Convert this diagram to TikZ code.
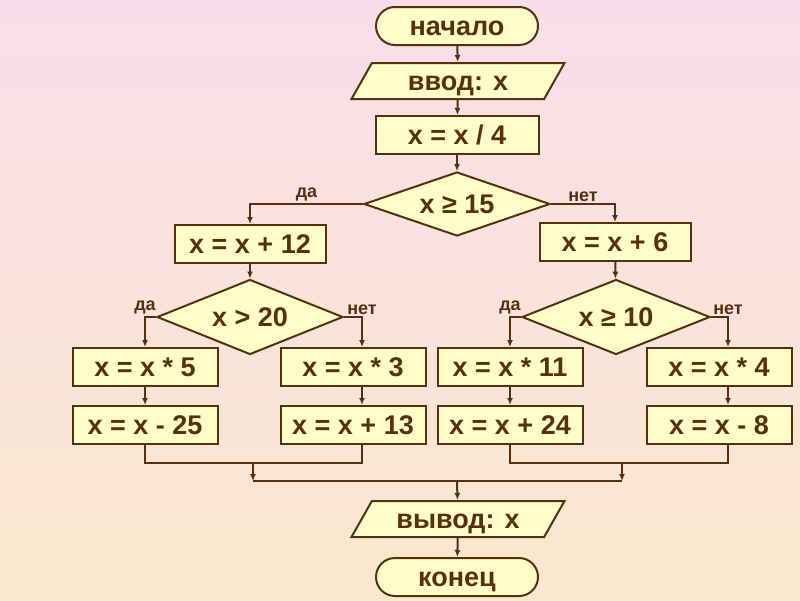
\documentclass[tikz,border=0pt]{standalone}
\usepackage{fontspec}
\setmainfont{Liberation Sans}
\usetikzlibrary{shapes.geometric,shapes.misc,arrows.meta}
\definecolor{brn}{RGB}{88,48,14}
\definecolor{boxfill}{RGB}{255,253,200}
\definecolor{bgtop}{RGB}{248,222,234}
\definecolor{bgbot}{RGB}{250,232,205}

\begin{document}
\begin{tikzpicture}[x=1pt, y=-1pt,
  box/.style={draw=brn, fill=boxfill, line width=2pt, text=brn,
    font=\fontsize{27}{30}\selectfont\bfseries, inner sep=0pt,
    text height=19pt, text depth=0pt,
    minimum height=38pt, minimum width=145pt},
  term/.style={box, rounded rectangle, minimum width=162pt},
  io/.style={box, trapezium, trapezium left angle=43, trapezium right angle=137,
    trapezium stretches body, minimum width=213pt, minimum height=36pt},
  cond/.style={box, diamond, aspect=2.5, minimum width=186pt, minimum height=75pt},
  lbl/.style={text=brn, font=\fontsize{18}{20}\selectfont\bfseries, inner sep=1.5pt},
  arr/.style={draw=brn, line width=2pt, -{Latex[length=7pt,width=6pt]}},
  ln/.style={draw=brn, line width=2pt}]

  \shade[top color=bgtop, bottom color=bgbot] (0,0) rectangle (800,600);

  \node[term] (start) at (457,26) {начало};
  \node[io] (in) at (458,81) {ввод: x};
  \node[box, minimum width=163pt] (div) at (457,135) {x = x / 4};
  \node[cond, aspect=2.9, minimum height=64pt] (c15) at (457,204) {x ≥ 15};

  \node[box, minimum width=151pt] (p12) at (250,244) {x = x + 12};
  \node[box, minimum width=151pt] (p6) at (615,242) {x = x + 6};
  \node[cond] (c20) at (250,317) {x > 20};
  \node[cond, minimum width=188pt] (c10) at (616,317) {x ≥ 10};

  \node[box] (m5) at (145,367) {x = x * 5};
  \node[box] (s25) at (145,425) {x = x - 25};
  \node[box] (m3) at (353,367) {x = x * 3};
  \node[box] (a13) at (353,425) {x = x + 13};
  \node[box] (m11) at (510,367) {x = x * 11};
  \node[box] (a24) at (510,425) {x = x + 24};
  \node[box] (m4) at (719,367) {x = x * 4};
  \node[box] (s8) at (719,425) {x = x - 8};

  \node[io] (out) at (458,519) {вывод: x};
  \node[term] (stop) at (457,577) {конец};

  \coordinate (jl) at (253,463);
  \coordinate (jr) at (622,463);
  \coordinate (ml) at (253,481);
  \coordinate (mr) at (622,481);
  \coordinate (mc) at (457,481);

  \draw[arr] (start) -- (in);
  \draw[arr] (in) -- (div);
  \draw[arr] (div) -- (c15);
  \draw[arr] (c15.west) -| node[lbl, pos=0.25, above]{да} (p12);
  \draw[arr] (c15.east) -| node[lbl, pos=0.25, above]{нет} (p6);
  \draw[arr] (p12) -- (c20);
  \draw[arr] (p6) -- (c10);

  \draw[arr] (c20.west) -| node[lbl, above]{да} (m5);
  \draw[arr] (c20.east) -| node[lbl, above]{нет} ([xshift=9pt]m3.north);
  \draw[arr] (m5) -- (s25);
  \draw[arr] ([xshift=9pt]m3.south) -- ([xshift=9pt]a13.north);
  \draw[arr] (c10.west) -| node[lbl, above]{да} (m11);
  \draw[arr] (c10.east) -| node[lbl, above]{нет} ([xshift=9pt]m4.north);
  \draw[arr] (m11) -- (a24);
  \draw[arr] ([xshift=9pt]m4.south) -- ([xshift=9pt]s8.north);

  \draw[ln] (s25) |- (jl) -| ([xshift=9pt]a13.south);
  \draw[ln] (a24) |- (jr) -| ([xshift=9pt]s8.south);
  \draw[arr] (jl) -- (ml);
  \draw[arr] (jr) -- (mr);
  \draw[ln] (ml) -- (mr);
  \draw[arr] (mc) -- (out);
  \draw[arr] (out) -- (stop);
\end{tikzpicture}
\end{document}
